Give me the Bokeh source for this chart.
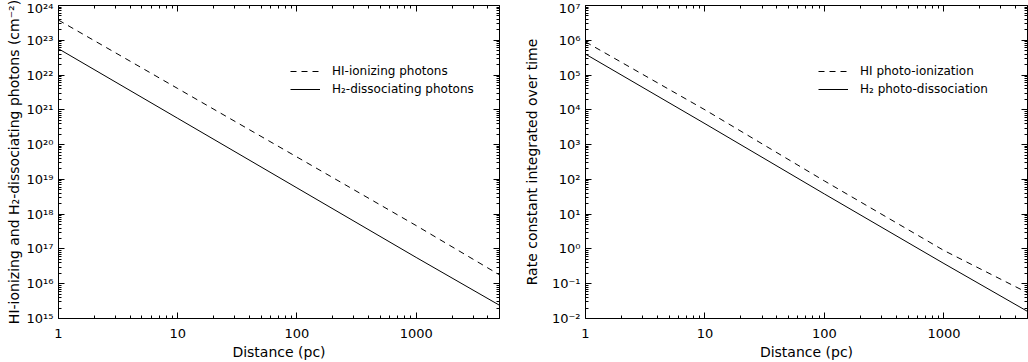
from bokeh.plotting import figure
from bokeh.models import (Range1d, LogAxis, FixedTicker, CustomJSTickFormatter,
                          Legend, LegendItem)
from bokeh.layouts import row
from bokeh.embed import file_html
from bokeh.resources import INLINE

# ---------------- data ----------------
distance_pc = [1, 10, 100, 1000, 5000]

hi_ionizing_photons = [3.8e23, 4.1e21, 4.4e19, 4.7e17, 1.8e16]
h2_dissociating_photons = [5.7e22, 5.7e20, 5.7e18, 5.7e16, 2.4e15]

hi_photoionization = [9.0e5, 1.0e4, 90, 0.9, 0.055]
h2_photodissociation = [4.0e5, 4.0e3, 38, 0.38, 0.016]

x_tick_values = [1, 10, 100, 1000]
left_y_exponents = list(range(15, 25))
right_y_exponents = list(range(-2, 8))

left_legend_labels = ["HI-ionizing photons", "H\u2082-dissociating photons"]
right_legend_labels = ["HI photo-ionization", "H\u2082 photo-dissociation"]

x_title = "Distance (pc)"
left_y_title = "HI-ionizing and H\u2082-dissociating photons (cm\u207b\u00b2)"
right_y_title = "Rate constant integrated over time"

FONT = "DejaVu Sans"
X_MIN, X_MAX = 1, 5000


def minor_ticks(lo_exp, hi_exp, upper=None):
    out = []
    for k in range(lo_exp, hi_exp):
        for m in range(2, 10):
            v = m * 10.0 ** k
            if upper is None or v <= upper:
                out.append(v)
    return out


def pow_formatter():
    return CustomJSTickFormatter(code="""
const m = {'0':'\u2070','1':'\u00b9','2':'\u00b2','3':'\u00b3','4':'\u2074',
           '5':'\u2075','6':'\u2076','7':'\u2077','8':'\u2078','9':'\u2079','-':'\u207b'};
const e = Math.round(Math.log10(tick));
return '10' + String(e).split('').map(c => m[c]).join('');
""")


def plain_formatter():
    return CustomJSTickFormatter(code="return String(Math.round(tick));")


def style_axis(ax, show_labels):
    ax.axis_line_color = "black"
    ax.axis_line_width = 1
    ax.major_tick_line_color = "black"
    ax.minor_tick_line_color = "black"
    ax.major_tick_in = 6
    ax.major_tick_out = 0
    ax.minor_tick_in = 3
    ax.minor_tick_out = 0
    ax.major_label_text_font = FONT
    ax.major_label_text_color = "black"
    ax.major_label_text_font_size = "13px"
    ax.axis_label_text_font = FONT
    ax.axis_label_text_font_size = "14px"
    ax.axis_label_text_font_style = "normal"
    ax.axis_label_text_color = "black"
    if not show_labels:
        ax.major_label_text_font_size = "1px"
        ax.major_label_text_color = None
        ax.major_label_standoff = 0


def make_panel(y_exps, series_dashed, series_solid, labels, y_title,
               width, border_left, y_label_standoff, legend_xy):
    x_ticks = FixedTicker(ticks=x_tick_values,
                          minor_ticks=minor_ticks(0, 4, upper=X_MAX))
    y_ticks = FixedTicker(ticks=[10.0 ** e for e in y_exps],
                          minor_ticks=minor_ticks(y_exps[0], y_exps[-1]))
    p = figure(width=width, height=362,
               x_axis_type="log", y_axis_type="log",
               x_range=Range1d(X_MIN, X_MAX),
               y_range=Range1d(10.0 ** y_exps[0], 10.0 ** y_exps[-1]),
               output_backend="svg", toolbar_location=None,
               min_border_left=border_left, min_border_right=1,
               min_border_top=5, min_border_bottom=41)
    p.outline_line_color = None
    p.xgrid.visible = False
    p.ygrid.visible = False
    p.background_fill_color = "white"
    p.border_fill_color = "white"

    bx = p.below[0]
    ly = p.left[0]
    bx.ticker = x_ticks
    bx.formatter = plain_formatter()
    style_axis(bx, True)
    bx.major_label_standoff = 10
    bx.axis_label = x_title
    bx.axis_label_standoff = 3

    ly.ticker = y_ticks
    ly.formatter = pow_formatter()
    style_axis(ly, True)
    ly.major_label_standoff = 5
    ly.axis_label = y_title
    ly.axis_label_standoff = y_label_standoff

    top = LogAxis(ticker=x_ticks, formatter=plain_formatter())
    style_axis(top, False)
    p.add_layout(top, "above")
    right = LogAxis(ticker=y_ticks, formatter=plain_formatter())
    style_axis(right, False)
    p.add_layout(right, "right")

    r1 = p.line(distance_pc, series_dashed, line_color="black",
                line_width=1, line_dash="6 5")
    r2 = p.line(distance_pc, series_solid, line_color="black", line_width=1)

    legend = Legend(items=[LegendItem(label=labels[0], renderers=[r1]),
                           LegendItem(label=labels[1], renderers=[r2])],
                    location=legend_xy,
                    border_line_color=None, background_fill_alpha=0,
                    padding=0, margin=0, spacing=0,
                    glyph_width=30, glyph_height=18, label_height=18,
                    label_standoff=12, label_text_font=FONT,
                    label_text_font_size="12px", label_text_color="black")
    p.add_layout(legend)
    return p


left = make_panel(left_y_exponents, hi_ionizing_photons, h2_dissociating_photons,
                  left_legend_labels, left_y_title,
                  width=500, border_left=58, y_label_standoff=2,
                  legend_xy=(232, 220))
right = make_panel(right_y_exponents, hi_photoionization, h2_photodissociation,
                   right_legend_labels, right_y_title,
                   width=528, border_left=85, y_label_standoff=9,
                   legend_xy=(233, 220))

layout = row(left, right, spacing=0)
open("out.html", "w").write(file_html(layout, INLINE))
